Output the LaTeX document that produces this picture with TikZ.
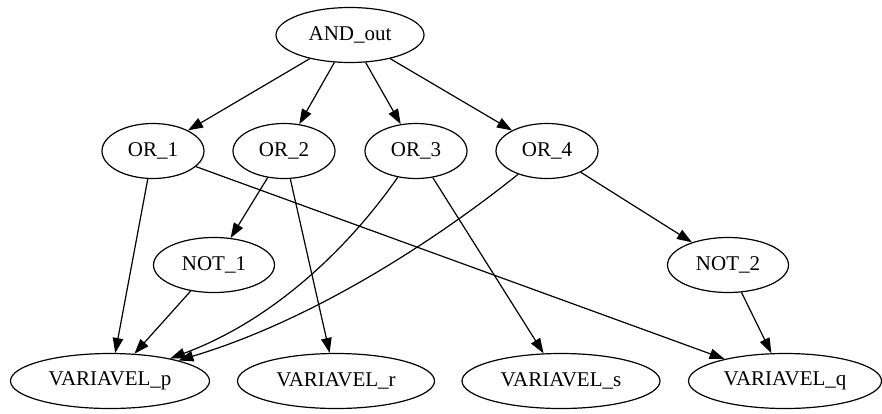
\documentclass[tikz,border=0pt]{standalone}
\usepackage{fontspec}
\setmainfont{Liberation Serif}
\usetikzlibrary{arrows.meta,shapes.geometric}

\begin{document}
\begin{tikzpicture}[x=1pt,y=-1pt,line width=1.2pt,
    font=\fontsize{21}{24}\selectfont,
    gate/.style={draw,ellipse,inner sep=0pt,minimum height=55pt},
    edge/.style={-{Triangle[length=15pt,width=10.5pt]}}]
   \useasboundingbox (0,0) rectangle (882,413);

   % top
   \node[gate,minimum width=148pt] (andout) at (350,35) {AND\_out};

   % or gates
   \node[gate,minimum width=102pt] (or1) at (153,151) {OR\_1};
   \node[gate,minimum width=102pt] (or2) at (284,151) {OR\_2};
   \node[gate,minimum width=102pt] (or3) at (416,151) {OR\_3};
   \node[gate,minimum width=102pt] (or4) at (547,151) {OR\_4};

   % not gates
   \node[gate,minimum width=121pt] (not1) at (214,265) {NOT\_1};
   \node[gate,minimum width=121pt] (not2) at (728,265) {NOT\_2};

   % variables
   \node[gate,minimum width=199pt] (varp) at (110,381) {VARIAVEL\_p};
   \node[gate,minimum width=197pt] (varr) at (336,381) {VARIAVEL\_r};
   \node[gate,minimum width=198pt] (vars) at (561,381) {VARIAVEL\_s};
   \node[gate,minimum width=193pt] (varq) at (785,381) {VARIAVEL\_q};

   \draw[edge] (andout) -- (or1);
   \draw[edge] (andout) -- (or2);
   \draw[edge] (andout) -- (or3);
   \draw[edge] (andout) -- (or4);

   \draw[edge] (or1) -- (varp);
   \draw[edge] (or1) -- (varq);
   \draw[edge] (or2) -- (not1);
   \draw[edge] (or2) -- (varr);
   \draw[edge] (or3) .. controls (375,210) and (300,310) .. (varp);
   \draw[edge] (or3) -- (vars);
   \draw[edge] (or4) .. controls (460,221) and (330,315) .. (varp);
   \draw[edge] (or4) -- (not2);

   \draw[edge] (not1) -- (varp);
   \draw[edge] (not2) -- (varq);

\end{tikzpicture}
\end{document}
